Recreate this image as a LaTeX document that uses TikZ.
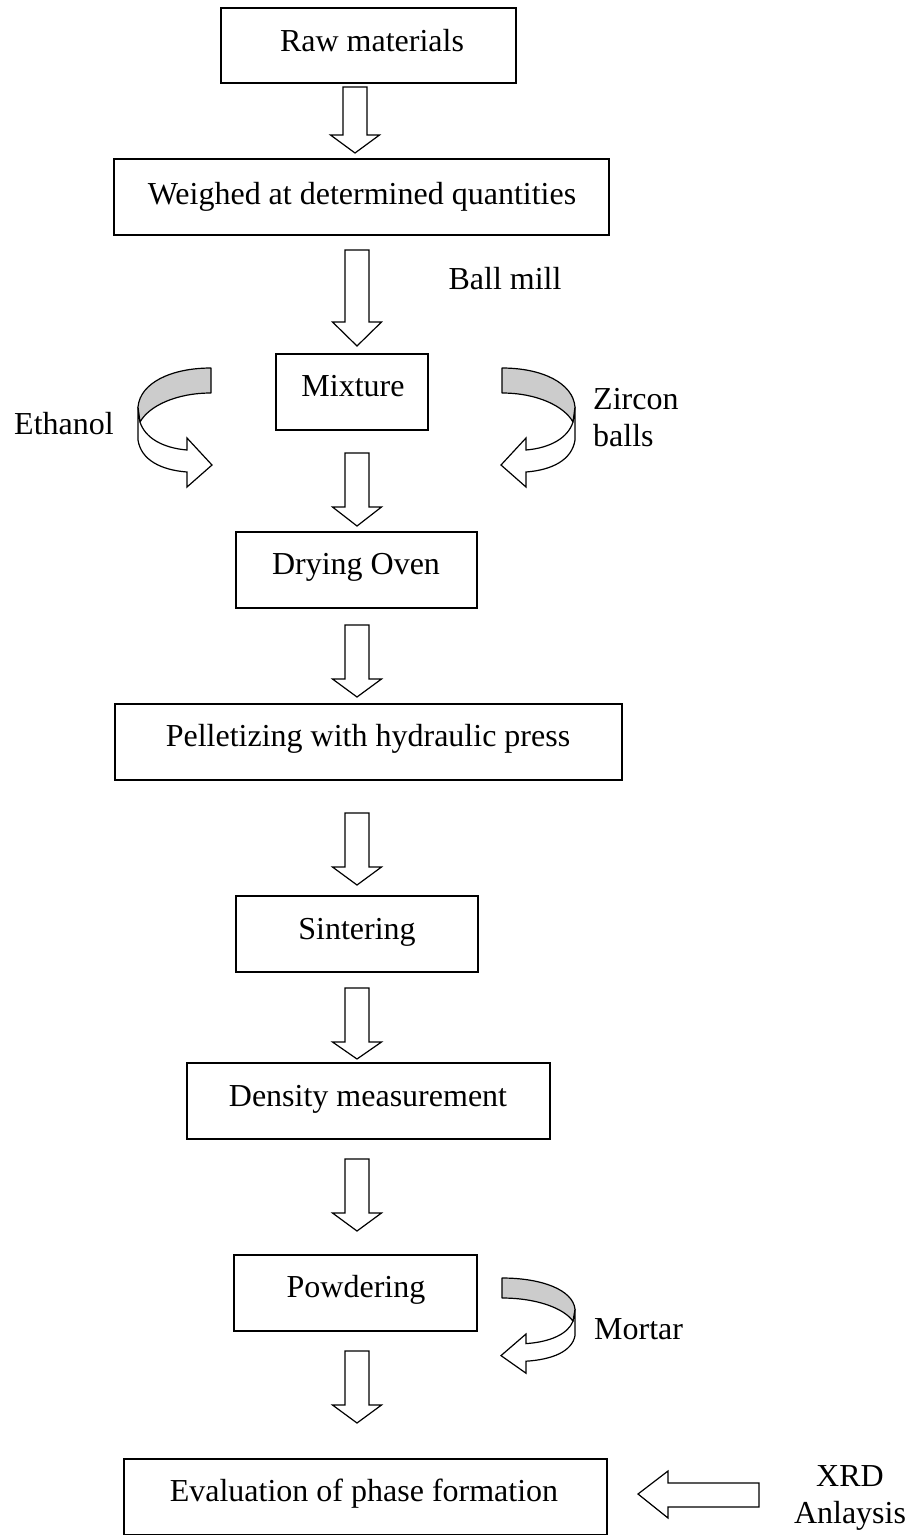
\documentclass[tikz,border=0pt]{standalone}
\usepackage{fontspec}
\setmainfont{Liberation Serif}
\begin{document}
\begin{tikzpicture}[x=1pt,y=-1pt,
  box/.style={draw,line width=1.5pt,inner sep=0pt,fill=white},
  txt/.style={inner sep=0pt,font=\fontsize{32}{38}\selectfont,text height=21pt,text depth=3pt},
  lbl/.style={inner sep=0pt,font=\fontsize{32}{38}\selectfont,align=left},
  blk/.style={draw,line width=1.2pt,fill=white,line join=miter},
  grayband/.style={draw,line width=1.2pt,fill=black!20,line join=round},
  whiteband/.style={draw,line width=1.2pt,fill=white,line join=miter}]
\useasboundingbox (0,0) rectangle (910,1535);

\newcommand\blkdn[4]{%
  \draw[blk] ({#1-12},#2) -- ({#1+12},#2) -- ({#1+12},#3) -- ({#1+24.5},#3) -- (#1,#4) -- ({#1-24.5},#3) -- ({#1-12},#3) -- cycle;}
\newcommand\curvearr[1]{%
  \begin{scope}[#1]
    \draw[whiteband] (-73,39) -- (-73,72) .. controls (-70,92) and (-50,102) .. (-24,104)
      -- (-24,119) -- (1,97) -- (-24,70) -- (-24,82)
      .. controls (-48,80) and (-66,70) .. (-71,54) -- cycle;
    \draw[grayband] (0,0) .. controls (-40,0) and (-71,15) .. (-73,39) -- (-71,54)
      .. controls (-62,38) and (-35,25) .. (0,25) -- cycle;
  \end{scope}}

% boxes
\node[box,minimum width=295,minimum height=75] (raw) at (368.5,45.5) {};
\node[box,minimum width=495,minimum height=76] (weigh) at (361.5,197) {};
\node[box,minimum width=152,minimum height=76] (mix) at (352,392) {};
\node[box,minimum width=241,minimum height=76] (dry) at (356.5,570) {};
\node[box,minimum width=507,minimum height=76] (pellet) at (368.5,742) {};
\node[box,minimum width=242,minimum height=76] (sinter) at (357,934) {};
\node[box,minimum width=363,minimum height=76] (dens) at (368.5,1101) {};
\node[box,minimum width=243,minimum height=76] (powder) at (355.5,1293) {};
\node[box,minimum width=483,minimum height=76] (eval) at (365.5,1497) {};

% box texts
\node[txt] (rawt) at (372,42) {Raw materials};
\node[txt] (weight) at (362,195) {Weighed at determined quantities};
\node[txt] (mixt) at (353,387) {Mixture};
\node[txt] (dryt) at (356,565) {Drying Oven};
\node[txt] (pellett) at (368,737) {Pelletizing with hydraulic press};
\node[txt] (sintert) at (357,930) {Sintering};
\node[txt] (denst) at (368,1097) {Density measurement};
\node[txt] (powdert) at (356,1288) {Powdering};
\node[txt] (evalt) at (364,1492) {Evaluation of phase formation};

% side labels
\node[txt] (ballmill) at (505,280) {Ball mill};
\node[txt] (ethanol) at (64,425) {Ethanol};
\node[lbl,anchor=north west] (zircon) at (593,388) {Zircon\\[-1pt]balls};
\node[txt,anchor=west] (mortar) at (594,1330) {Mortar};
\node[lbl,align=center] (xrd) at (850,1498) {XRD\\[-1pt]Anlaysis};

% block arrows
\blkdn{355}{87}{135}{153}
\blkdn{357}{250}{322}{346}
\blkdn{357}{453}{507}{526}
\blkdn{357}{625}{679}{697}
\blkdn{357}{813}{867}{885}
\blkdn{357}{988}{1042}{1059}
\blkdn{357}{1159}{1213}{1231}
\blkdn{357}{1351}{1405}{1423}

% XRD arrow
\draw[blk] (759,1483) -- (759,1507) -- (668,1507) -- (668,1518) -- (638,1494) -- (668,1471) -- (668,1483) -- cycle;

% curved arrows
\curvearr{shift={(211,368)}}
\curvearr{shift={(502,368)},xscale=-1}
\curvearr{shift={(502,1278)},xscale=-1,yscale=0.8}
\end{tikzpicture}
\end{document}
